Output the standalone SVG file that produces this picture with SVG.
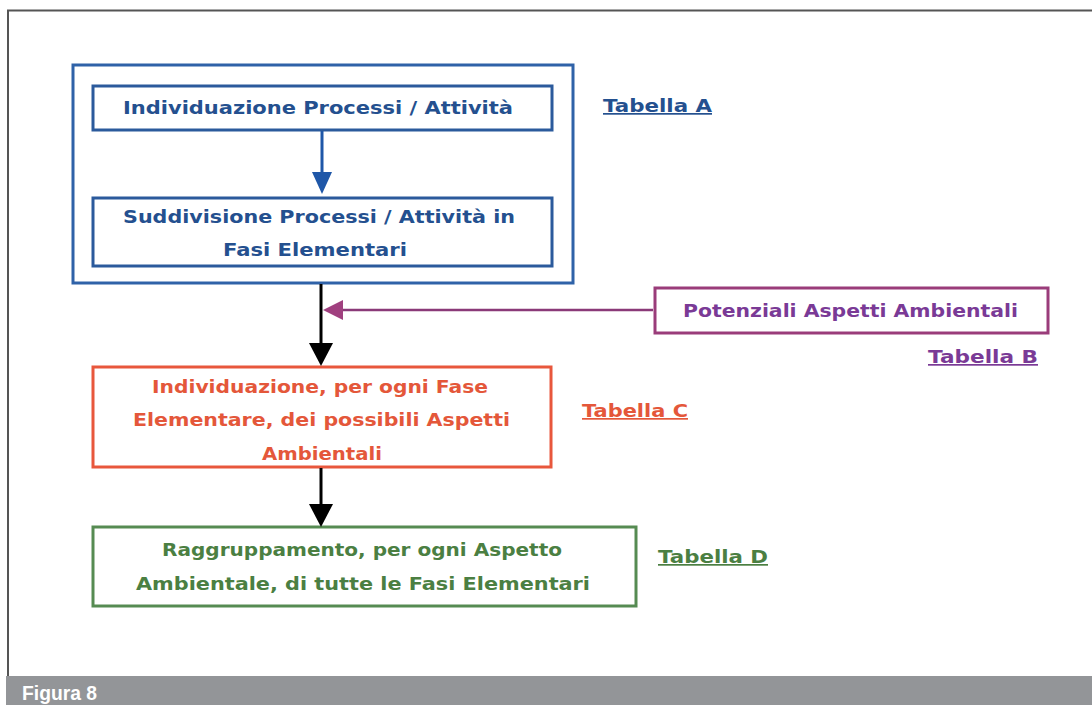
<svg xmlns="http://www.w3.org/2000/svg" width="1092" height="705" viewBox="0 0 1092 705">
<defs>
<style>
.t{font-family:"Comic Sans MS","DejaVu Sans",sans-serif;font-weight:bold;font-size:17px}
.blue{fill:#24508f}
.purple{fill:#7a3a96}
.red{fill:#e4573a}
.green{fill:#4b7f42}
.box{fill:#ffffff;stroke-width:3}
.u{text-decoration:underline}
</style>
</defs>
<rect x="0" y="0" width="1092" height="705" fill="#ffffff"/>
<g id="frame">
<path d="M8,676 V10.5 H1092" fill="none" stroke="#555555" stroke-width="2"/>
<rect x="6" y="676" width="1086" height="29" fill="#939598"/>
<text x="22" y="700" font-family="'Liberation Sans',Arial,sans-serif" font-weight="bold" font-size="20" fill="#ffffff" textLength="75" lengthAdjust="spacingAndGlyphs">Figura 8</text>
</g>
<g id="groupA">
<rect class="box" x="73" y="65" width="500" height="218" stroke="#2f62a8"/>
</g>
<g id="node1">
<rect class="box" x="93" y="86" width="459" height="44" stroke="#2b5a9c"/>
<text class="t blue" x="123" y="114" textLength="390" lengthAdjust="spacingAndGlyphs">Individuazione Processi / Attività</text>
</g>
<g id="node2">
<rect class="box" x="93" y="198" width="459" height="68" stroke="#2b5a9c"/>
<text class="t blue" x="123" y="223" textLength="392" lengthAdjust="spacingAndGlyphs">Suddivisione Processi / Attività in</text>
<text class="t blue" x="223" y="256" textLength="184" lengthAdjust="spacingAndGlyphs">Fasi Elementari</text>
</g>
<g id="tabA">
<text class="t blue u" x="603" y="112" textLength="109" lengthAdjust="spacingAndGlyphs">Tabella A</text>
</g>
<g id="nodeB">
<rect class="box" x="655" y="288" width="393" height="45" stroke="#9a3c7a"/>
<text class="t purple" x="683" y="317" textLength="335" lengthAdjust="spacingAndGlyphs">Potenziali Aspetti Ambientali</text>
</g>
<g id="tabB">
<text class="t purple u" x="928" y="363" textLength="110" lengthAdjust="spacingAndGlyphs">Tabella B</text>
</g>
<g id="nodeC">
<rect class="box" x="93" y="367" width="458" height="100" stroke="#e8573c"/>
<text class="t red" x="152" y="393" textLength="336" lengthAdjust="spacingAndGlyphs">Individuazione, per ogni Fase</text>
<text class="t red" x="133" y="426" textLength="377" lengthAdjust="spacingAndGlyphs">Elementare, dei possibili Aspetti</text>
<text class="t red" x="262" y="460" textLength="120" lengthAdjust="spacingAndGlyphs">Ambientali</text>
</g>
<g id="tabC">
<text class="t red u" x="582" y="417" textLength="106" lengthAdjust="spacingAndGlyphs">Tabella C</text>
</g>
<g id="nodeD">
<rect class="box" x="93" y="527" width="543" height="79" stroke="#568b52"/>
<text class="t green" x="162" y="556" textLength="400" lengthAdjust="spacingAndGlyphs">Raggruppamento, per ogni Aspetto</text>
<text class="t green" x="136" y="590" textLength="454" lengthAdjust="spacingAndGlyphs">Ambientale, di tutte le Fasi Elementari</text>
</g>
<g id="tabD">
<text class="t green u" x="658" y="563" textLength="110" lengthAdjust="spacingAndGlyphs">Tabella D</text>
</g>
<g id="connectors">
<line x1="322" y1="131" x2="322" y2="174" stroke="#1f57a8" stroke-width="3"/>
<polygon points="312,172 332,172 322,194" fill="#1f57a8"/>
<line x1="321" y1="284" x2="321" y2="346" stroke="#000000" stroke-width="3"/>
<polygon points="309,343 333,343 321,366" fill="#000000"/>
<line x1="653" y1="310" x2="340" y2="310" stroke="#8a3a78" stroke-width="2.5"/>
<polygon points="343,300 343,320 323,310" fill="#a0407f"/>
<line x1="321" y1="468" x2="321" y2="506" stroke="#000000" stroke-width="3"/>
<polygon points="309,504 333,504 321,527" fill="#000000"/>
</g>
</svg>
